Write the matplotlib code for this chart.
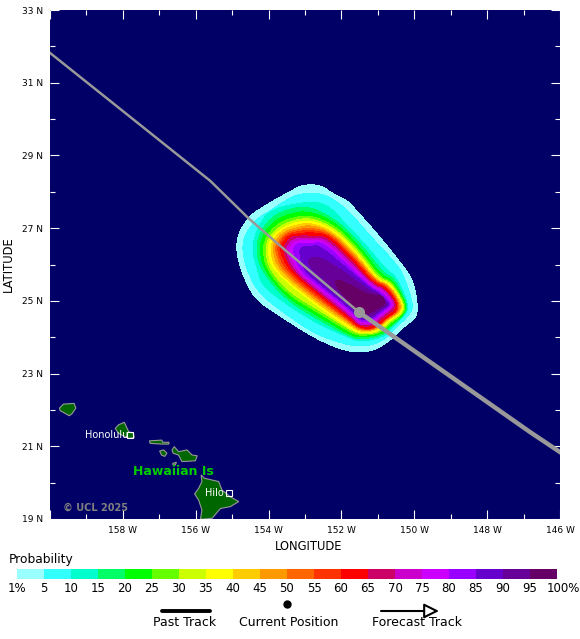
import matplotlib
matplotlib.use("Agg")
import matplotlib.pyplot as plt
import numpy as np

BACKGROUND = "#000066"
LEVEL_COLORS = [
    "#99FFFF", "#33FFFF", "#00FFCC", "#00FF66", "#00FF00", "#66FF00", "#CCFF00",
    "#FFFF00", "#FFCC00", "#FF9900", "#FF6600", "#FF3300", "#FF0000", "#CC0066",
    "#CC00CC", "#CC00FF", "#9900FF", "#6600CC", "#660099", "#660066",
]
LEVEL_LABELS = ["1%", "5", "10", "15", "20", "25", "30", "35", "40", "45", "50",
                "55", "60", "65", "70", "75", "80", "85", "90", "95", "100%"]

# probability contours, outermost first (lon, lat)
ring_01_lon = [-153.08, -152.58, -152.26, -151.84, -151.63, -150.98, -150.27, -150.05, -149.92, -149.92, -150.24, -150.42, -150.77, -151.20, -151.84, -152.67, -153.59, -154.41, -154.76, -154.89, -154.83, -154.50, -154.16, -153.86, -153.36]
ring_01_lat = [28.19, 28.19, 27.96, 27.76, 27.53, 26.80, 25.91, 25.57, 25.02, 24.56, 24.33, 24.14, 23.83, 23.60, 23.60, 23.94, 24.52, 25.07, 25.85, 26.40, 26.86, 27.36, 27.57, 27.76, 28.03]
ring_05_lon = [-153.04, -152.58, -152.16, -151.75, -151.11, -150.47, -150.24, -150.04, -150.08, -150.54, -150.83, -151.25, -151.75, -152.67, -153.54, -154.27, -154.60, -154.72, -154.67, -154.37, -154.00, -153.40]
ring_05_lat = [27.96, 27.96, 27.76, 27.41, 26.67, 26.00, 25.57, 24.93, 24.67, 24.22, 23.92, 23.76, 23.76, 24.06, 24.64, 25.21, 25.85, 26.40, 26.77, 27.22, 27.45, 27.85]
ring_10_lon = [-152.81, -152.39, -151.96, -151.29, -150.74, -150.50, -150.17, -150.21, -150.60, -150.85, -151.48, -151.75, -152.67, -153.54, -154.18, -154.30, -154.46, -154.34, -154.09, -153.77, -153.40]
ring_10_lat = [27.73, 27.64, 27.20, 26.49, 25.82, 25.68, 24.93, 24.65, 24.29, 23.99, 23.88, 23.97, 24.38, 24.93, 25.43, 25.85, 26.40, 26.90, 27.36, 27.55, 27.64]
ring_15_lon = [-152.85, -152.02, -151.36, -150.83, -150.55, -150.19, -150.24, -150.62, -150.87, -151.48, -151.75, -152.67, -153.54, -154.21, -154.34, -154.25, -153.95, -153.50]
ring_15_lat = [27.61, 27.14, 26.43, 25.74, 25.63, 24.93, 24.65, 24.31, 24.04, 23.94, 24.01, 24.50, 25.04, 25.85, 26.40, 26.86, 27.27, 27.52]
ring_20_lon = [-152.85, -152.07, -151.41, -150.90, -150.60, -150.22, -150.27, -150.65, -150.90, -151.48, -151.75, -152.67, -153.50, -154.12, -154.25, -154.16, -153.86, -153.45]
ring_20_lat = [27.48, 27.09, 26.37, 25.69, 25.58, 24.93, 24.65, 24.33, 24.08, 24.00, 24.06, 24.60, 25.10, 25.85, 26.40, 26.81, 27.18, 27.39]
ring_25_lon = [-152.85, -152.12, -151.45, -150.95, -150.63, -150.25, -150.29, -150.67, -150.95, -151.48, -151.75, -152.67, -153.45, -154.05, -154.16, -154.07, -153.77, -153.38]
ring_25_lat = [27.36, 27.04, 26.33, 25.65, 25.54, 24.93, 24.65, 24.38, 24.10, 24.04, 24.13, 24.70, 25.16, 25.85, 26.40, 26.77, 27.10, 27.28]
ring_30_lon = [-152.85, -152.16, -151.49, -150.98, -150.66, -150.28, -150.32, -150.69, -150.97, -151.48, -151.75, -152.67, -153.40, -153.97, -154.09, -154.01, -153.71, -153.33]
ring_30_lat = [27.29, 26.99, 26.30, 25.61, 25.52, 24.93, 24.66, 24.42, 24.13, 24.08, 24.20, 24.78, 25.22, 25.85, 26.40, 26.72, 27.04, 27.21]
ring_35_lon = [-152.85, -152.20, -151.52, -151.01, -150.69, -150.30, -150.35, -150.74, -151.02, -151.48, -151.75, -152.67, -153.90, -154.03, -153.95, -153.65, -153.27]
ring_35_lat = [27.22, 26.96, 26.26, 25.58, 25.49, 24.93, 24.68, 24.43, 24.15, 24.11, 24.24, 24.86, 25.85, 26.40, 26.69, 26.99, 27.15]
ring_40_lon = [-152.85, -152.24, -151.55, -151.03, -150.71, -150.34, -150.38, -150.74, -151.05, -151.48, -151.75, -152.67, -153.82, -153.95, -153.89, -153.61, -153.22]
ring_40_lat = [27.15, 26.92, 26.23, 25.56, 25.47, 24.93, 24.69, 24.46, 24.18, 24.14, 24.31, 24.93, 25.85, 26.40, 26.65, 26.96, 27.09]
ring_45_lon = [-152.85, -152.27, -151.58, -151.05, -150.72, -150.37, -150.41, -150.74, -151.06, -151.48, -151.75, -152.67, -153.72, -153.89, -153.83, -153.56, -153.17]
ring_45_lat = [27.09, 26.89, 26.21, 25.54, 25.45, 24.93, 24.70, 24.49, 24.21, 24.17, 24.36, 25.00, 25.85, 26.40, 26.63, 26.92, 27.02]
ring_50_lon = [-152.85, -152.29, -151.61, -151.06, -150.74, -150.40, -150.45, -150.74, -151.09, -151.48, -151.75, -152.67, -153.63, -153.83, -153.75, -153.52, -153.13]
ring_50_lat = [27.01, 26.87, 26.18, 25.53, 25.43, 24.93, 24.70, 24.52, 24.21, 24.20, 24.41, 25.07, 25.85, 26.40, 26.60, 26.88, 26.97]
ring_55_lon = [-152.85, -152.32, -151.63, -151.08, -150.77, -150.43, -150.49, -150.74, -151.10, -151.48, -151.75, -152.67, -153.54, -153.77, -153.70, -153.49, -153.08]
ring_55_lat = [26.95, 26.84, 26.15, 25.51, 25.41, 24.93, 24.70, 24.55, 24.22, 24.22, 24.44, 25.13, 25.85, 26.40, 26.58, 26.85, 26.92]
ring_60_lon = [-152.85, -152.35, -151.66, -151.11, -150.79, -150.46, -150.51, -150.74, -151.11, -151.48, -151.75, -152.67, -153.45, -153.70, -153.63, -153.45, -153.05]
ring_60_lat = [26.88, 26.81, 26.12, 25.48, 25.39, 24.93, 24.70, 24.56, 24.24, 24.25, 24.49, 25.20, 25.85, 26.40, 26.56, 26.81, 26.86]
ring_65_lon = [-152.85, -152.39, -151.71, -151.12, -150.83, -150.50, -150.56, -150.77, -151.13, -151.48, -151.75, -152.67, -153.37, -153.61, -153.55, -153.38, -153.04]
ring_65_lat = [26.78, 26.77, 26.08, 25.45, 25.35, 24.93, 24.75, 24.60, 24.31, 24.30, 24.55, 25.27, 25.85, 26.40, 26.54, 26.77, 26.79]
ring_70_lon = [-152.85, -152.44, -151.74, -151.14, -150.85, -150.54, -150.61, -150.81, -151.15, -151.48, -151.75, -152.67, -153.30, -153.53, -153.48, -153.32]
ring_70_lat = [26.72, 26.72, 26.04, 25.42, 25.32, 24.93, 24.79, 24.65, 24.35, 24.33, 24.61, 25.33, 25.85, 26.40, 26.51, 26.71]
ring_75_lon = [-152.85, -152.49, -151.78, -151.16, -150.89, -150.59, -150.64, -150.83, -151.16, -151.48, -151.75, -152.67, -153.22, -153.45, -153.40, -153.26]
ring_75_lat = [26.65, 26.67, 26.00, 25.39, 25.29, 24.93, 24.81, 24.68, 24.40, 24.38, 24.67, 25.40, 25.85, 26.40, 26.49, 26.65]
ring_80_lon = [-152.85, -152.53, -151.82, -151.17, -150.93, -150.63, -150.69, -150.86, -151.18, -151.48, -151.75, -152.67, -153.15, -153.33, -153.29, -153.18]
ring_80_lat = [26.56, 26.63, 25.97, 25.35, 25.25, 24.93, 24.83, 24.71, 24.45, 24.42, 24.73, 25.46, 25.85, 26.40, 26.47, 26.59]
ring_85_lon = [-152.85, -152.62, -151.87, -151.18, -150.97, -150.69, -150.72, -150.90, -151.20, -151.48, -151.75, -152.67, -153.04, -153.17, -153.05]
ring_85_lat = [26.49, 26.54, 25.91, 25.32, 25.22, 24.93, 24.86, 24.74, 24.50, 24.47, 24.79, 25.53, 25.85, 26.40, 26.49]
ring_90_lon = [-152.85, -152.58, -152.16, -151.96, -151.20, -151.02, -150.74, -150.76, -150.93, -151.22, -151.48, -151.75, -152.67, -152.93]
ring_90_lat = [26.20, 26.20, 25.94, 25.82, 25.25, 25.21, 24.93, 24.87, 24.77, 24.55, 24.53, 24.87, 25.76, 26.03]
ring_95_lon = [-152.16, -151.66, -151.25, -150.88, -150.79, -150.95, -151.25, -151.48, -151.71, -151.98, -152.16]
ring_95_lat = [25.62, 25.39, 25.16, 25.16, 24.93, 24.82, 24.65, 24.59, 24.88, 25.21, 25.43]

RINGS = [
    (ring_01_lon, ring_01_lat), (ring_05_lon, ring_05_lat), (ring_10_lon, ring_10_lat),
    (ring_15_lon, ring_15_lat), (ring_20_lon, ring_20_lat), (ring_25_lon, ring_25_lat),
    (ring_30_lon, ring_30_lat), (ring_35_lon, ring_35_lat), (ring_40_lon, ring_40_lat),
    (ring_45_lon, ring_45_lat), (ring_50_lon, ring_50_lat), (ring_55_lon, ring_55_lat),
    (ring_60_lon, ring_60_lat), (ring_65_lon, ring_65_lat), (ring_70_lon, ring_70_lat),
    (ring_75_lon, ring_75_lat), (ring_80_lon, ring_80_lat), (ring_85_lon, ring_85_lat),
    (ring_90_lon, ring_90_lat), (ring_95_lon, ring_95_lat),
]

# storm track
past_lon = [-160.0, -155.6, -154.56, -153.55, -151.52]
past_lat = [31.82, 28.3, 27.28, 26.40, 24.69]
forecast_lon = [-151.52, -149.84, -146.82, -146.0]
forecast_lat = [24.69, 23.51, 21.39, 20.84]
current_lon = -151.52
current_lat = 24.69

# islands
kauai_lon = [-159.74, -159.63, -159.34, -159.29, -159.40, -159.47, -159.63, -159.72]
kauai_lat = [22.05, 22.16, 22.18, 22.05, 21.89, 21.84, 21.93, 21.98]
oahu_lon = [-158.21, -158.12, -157.96, -157.84, -157.71, -157.69, -157.84, -158.03, -158.12]
oahu_lat = [21.49, 21.59, 21.66, 21.40, 21.36, 21.24, 21.22, 21.31, 21.36]
molokai_lon = [-157.27, -156.93, -156.91, -156.73, -156.74, -156.93, -157.25]
molokai_lat = [21.15, 21.17, 21.11, 21.11, 21.06, 21.06, 21.08]
lanai_lon = [-156.99, -156.88, -156.79, -156.85, -156.94]
lanai_lat = [20.87, 20.90, 20.81, 20.72, 20.76]
maui_lon = [-156.65, -156.59, -156.47, -156.24, -156.10, -155.96, -156.01, -156.38, -156.47, -156.62]
maui_lat = [20.90, 20.99, 20.85, 20.90, 20.76, 20.74, 20.60, 20.58, 20.76, 20.81]
kahoolawe_lon = [-156.63, -156.53, -156.56, -156.62]
kahoolawe_lat = [20.53, 20.56, 20.49, 20.48]
hawaii_lon = [-155.85, -155.76, -155.37, -155.28, -155.05, -154.82, -155.05, -155.32, -155.55, -155.87, -155.83, -155.92, -156.03, -155.92, -155.83]
hawaii_lat = [20.21, 20.12, 20.03, 19.80, 19.61, 19.48, 19.34, 19.29, 19.02, 18.99, 19.25, 19.52, 19.69, 19.84, 20.03]

ISLANDS = [
    (kauai_lon, kauai_lat), (oahu_lon, oahu_lat), (molokai_lon, molokai_lat),
    (lanai_lon, lanai_lat), (maui_lon, maui_lat), (kahoolawe_lon, kahoolawe_lat),
    (hawaii_lon, hawaii_lat),
]

city_names = ["Honolulu", "Hilo"]
city_lon = [-157.80, -155.09]
city_lat = [21.30, 19.72]


def smooth_outline(lon, lat, passes=2):
    # corner cutting so the hand read outlines don't look polygonal
    pts = np.column_stack([lon, lat])
    for _ in range(passes):
        nxt = np.roll(pts, -1, axis=0)
        pts = np.column_stack([0.75 * pts + 0.25 * nxt, 0.25 * pts + 0.75 * nxt]).reshape(-1, 2)
    return pts[:, 0], pts[:, 1]


W, H = 580, 639
fig = plt.figure(figsize=(W / 100, H / 100), dpi=100)
plt.rcParams["font.family"] = ["DejaVu Sans"]

ax = fig.add_axes([50 / W, 1 - 519 / H, 510 / W, 509 / H], facecolor=BACKGROUND)
ax.set_xlim(-160, -146)
ax.set_ylim(19, 33)

for (lon, lat), color in zip(RINGS, LEVEL_COLORS):
    xs, ys = smooth_outline(lon, lat)
    ax.fill(xs, ys, color=color, linewidth=0, antialiased=False, zorder=2)

for lon, lat in ISLANDS:
    ax.fill(lon, lat, facecolor="#006600", edgecolor="#999999", linewidth=0.8, zorder=3)

ax.plot(past_lon, past_lat, color="#999999", linewidth=1.8, zorder=4)
ax.plot(forecast_lon, forecast_lat, color="#999999", linewidth=3.2, zorder=4)
ax.plot([current_lon], [current_lat], "o", color="#999999", markersize=7, zorder=5)

ax.plot(city_lon, city_lat, "s", markerfacecolor="none", markeredgecolor="white",
        markeredgewidth=0.8, markersize=4.5, zorder=5)
ax.text(city_lon[0] - 0.05, city_lat[0], city_names[0], color="white", fontsize=7,
        ha="right", va="center", zorder=6)
ax.text(city_lon[1] - 0.13, city_lat[1], city_names[1], color="white", fontsize=7,
        ha="right", va="center", zorder=6)
ax.text(-156.60, 20.30, "Hawaiian Is", color="#00CC00", fontsize=9, fontweight="bold",
        ha="center", va="center", zorder=6)
ax.text(-159.65, 19.30, "\u00a9 UCL 2025", color="#808080", fontsize=7, fontweight="bold",
        ha="left", va="center", zorder=6)

ax.set_xticks(np.arange(-160, -145, 2))
ax.set_xticklabels(["", "158 W", "156 W", "154 W", "152 W", "150 W", "148 W", "146 W"], fontsize=6.5)
ax.set_xticks(np.arange(-159, -146, 2), minor=True)
ax.set_yticks(np.arange(19, 34, 2))
ax.set_yticklabels([f"{v} N" for v in range(19, 34, 2)], fontsize=6.5)
ax.set_yticks(np.arange(20, 33, 2), minor=True)
ax.tick_params(which="major", direction="in", length=6.5, width=0.8, color="white",
               top=True, right=True, pad=5, labelcolor="black")
ax.tick_params(which="minor", direction="in", length=3.6, width=0.8, color="white",
               top=True, right=True)
for spine in ax.spines.values():
    spine.set_visible(False)

# legend drawn on a pixel sized overlay
over = fig.add_axes([0, 0, 1, 1], facecolor="none")
over.set_xlim(0, W)
over.set_ylim(H, 0)
over.axis("off")
over.text(309, 546, "LONGITUDE", fontsize=8.3, ha="center", va="center")
over.text(8, 264, "LATITUDE", fontsize=8.3, rotation=90, ha="center", va="center")
over.text(9, 560, "Probability", fontsize=8.8, ha="left", va="center")

over.plot([162, 210], [611, 611], color="black", linewidth=2.8, solid_capstyle="round")
over.text(185, 623, "Past Track", fontsize=9, ha="center", va="center")
over.plot([287], [604], "o", color="black", markersize=5)
over.text(289, 623, "Current Position", fontsize=9, ha="center", va="center")
over.annotate("", xy=(439, 611), xytext=(381, 611),
              arrowprops=dict(arrowstyle="-|>,head_length=0.9,head_width=0.45", mutation_scale=10,
                              facecolor="white", edgecolor="black", linewidth=1.5,
                              shrinkA=0, shrinkB=0))
over.text(417, 623, "Forecast Track", fontsize=9, ha="center", va="center")

bar_ax = fig.add_axes([17 / W, 1 - 579 / H, 540 / W, 10 / H])
bar_ax.bar(np.arange(len(LEVEL_COLORS)), np.ones(len(LEVEL_COLORS)), width=1.0, align="edge",
           color=LEVEL_COLORS, linewidth=0)
bar_ax.set_xlim(0, len(LEVEL_COLORS))
bar_ax.set_ylim(0, 1)
bar_ax.axis("off")
for i, label in enumerate(LEVEL_LABELS):
    shift = 0.22 if label == "100%" else 0.0
    bar_ax.text(i + shift, -0.28, label, fontsize=8.5, ha="center", va="top", clip_on=False)

fig.savefig("out.png", dpi=100)
